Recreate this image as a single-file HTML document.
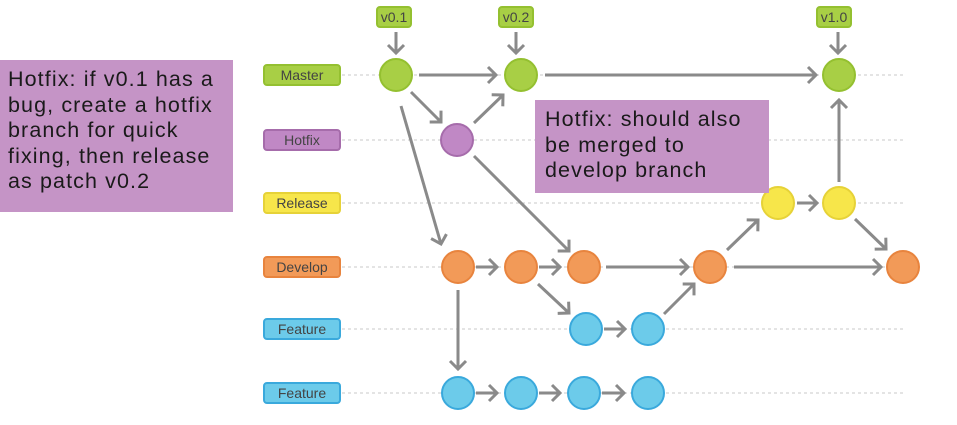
<!DOCTYPE html>
<html><head><meta charset="utf-8"><style>
html,body{margin:0;padding:0;background:#fff;width:957px;height:425px;overflow:hidden;position:relative;font-family:"Liberation Sans",sans-serif}
.box{position:absolute;background:#c594c6;color:#1a1a1a;font-size:21.5px;letter-spacing:1.1px;line-height:25.5px;box-sizing:border-box;white-space:nowrap}
</style></head><body>
<svg width="957" height="425" style="position:absolute;left:0;top:0">
<defs>
<marker id="a" markerUnits="userSpaceOnUse" markerWidth="20" markerHeight="20" refX="10" refY="10" orient="auto">
<path d="M2,2 L10,10 L2,18" fill="none" stroke="#8a8a8a" stroke-width="3"/>
</marker>
</defs>
<g stroke="#c8c8c8" stroke-width="1" stroke-dasharray="3,3">
<line x1="342" y1="75" x2="905" y2="75"/>
<line x1="342" y1="140" x2="905" y2="140"/>
<line x1="342" y1="203" x2="905" y2="203"/>
<line x1="342" y1="267" x2="905" y2="267"/>
<line x1="342" y1="329" x2="905" y2="329"/>
<line x1="342" y1="393" x2="905" y2="393"/>
</g>
<g font-size="14" text-anchor="middle" fill="#444" stroke-width="2">
<rect x="264" y="65" width="76" height="20" rx="3" fill="#a8cf45" stroke="#94c030"/><text x="302" y="80">Master</text>
<rect x="264" y="130" width="76" height="20" rx="3" fill="#c088c5" stroke="#a66cab"/><text x="302" y="145">Hotfix</text>
<rect x="264" y="193" width="76" height="20" rx="3" fill="#f7e64a" stroke="#e6d238"/><text x="302" y="208">Release</text>
<rect x="264" y="257" width="76" height="20" rx="3" fill="#f29a58" stroke="#e8843e"/><text x="302" y="272">Develop</text>
<rect x="264" y="319" width="76" height="20" rx="3" fill="#6ccbea" stroke="#3aa9dc"/><text x="302" y="334">Feature</text>
<rect x="264" y="383" width="76" height="20" rx="3" fill="#6ccbea" stroke="#3aa9dc"/><text x="302" y="398">Feature</text>
<rect x="377" y="7" width="34" height="20" rx="3" fill="#a8cf45" stroke="#94c030"/><text x="394" y="22">v0.1</text>
<rect x="499" y="7" width="34" height="20" rx="3" fill="#a8cf45" stroke="#94c030"/><text x="516" y="22">v0.2</text>
<rect x="817" y="7" width="34" height="20" rx="3" fill="#a8cf45" stroke="#94c030"/><text x="834" y="22">v1.0</text>
</g>
<g stroke="#8a8a8a" stroke-width="3" fill="none" marker-end="url(#a)">
<line x1="396" y1="32" x2="396" y2="53"/>
<line x1="516" y1="32" x2="516" y2="53"/>
<line x1="838" y1="32" x2="838" y2="53"/>
<line x1="419" y1="75" x2="496" y2="75"/>
<line x1="545" y1="75" x2="816" y2="75"/>
<line x1="411" y1="92" x2="441" y2="122"/>
<line x1="474" y1="123" x2="503" y2="95"/>
<line x1="474" y1="156" x2="569" y2="251"/>
<line x1="401" y1="106" x2="441" y2="244"/>
<line x1="476" y1="267" x2="497" y2="267"/>
<line x1="539" y1="267" x2="560" y2="267"/>
<line x1="606" y1="267" x2="688" y2="267"/>
<line x1="734" y1="267" x2="881" y2="267"/>
<line x1="538" y1="284" x2="569" y2="313"/>
<line x1="604" y1="329" x2="625" y2="329"/>
<line x1="664" y1="314" x2="694" y2="284"/>
<line x1="458" y1="290" x2="458" y2="369"/>
<line x1="476" y1="393" x2="497" y2="393"/>
<line x1="539" y1="393" x2="560" y2="393"/>
<line x1="602" y1="393" x2="624" y2="393"/>
<line x1="727" y1="250" x2="758" y2="220"/>
<line x1="797" y1="203" x2="817" y2="203"/>
<line x1="839" y1="182" x2="839" y2="100"/>
<line x1="855" y1="219" x2="886" y2="249"/>
</g>
<g stroke-width="2">
<g fill="#a8cf45" stroke="#94c030">
<circle cx="396" cy="75" r="16"/><circle cx="521" cy="75" r="16"/><circle cx="839" cy="75" r="16"/>
</g>
<circle cx="457" cy="140" r="16" fill="#c088c5" stroke="#a66cab"/>
<g fill="#f7e64a" stroke="#e6d238">
<circle cx="778" cy="203" r="16"/><circle cx="839" cy="203" r="16"/>
</g>
<g fill="#f29a58" stroke="#e8843e">
<circle cx="458" cy="267" r="16"/><circle cx="521" cy="267" r="16"/><circle cx="584" cy="267" r="16"/><circle cx="710" cy="267" r="16"/><circle cx="903" cy="267" r="16"/>
</g>
<g fill="#6ccbea" stroke="#3aa9dc">
<circle cx="586" cy="329" r="16"/><circle cx="648" cy="329" r="16"/>
<circle cx="458" cy="393" r="16"/><circle cx="521" cy="393" r="16"/><circle cx="584" cy="393" r="16"/><circle cx="648" cy="393" r="16"/>
</g>
</g>
</svg>
<div class="box" style="left:0;top:60px;width:233px;height:152px;padding:7px 0 0 8px">Hotfix: if v0.1 has a<br>bug, create a hotfix<br>branch for quick<br>fixing, then release<br>as patch v0.2</div>
<div class="box" style="left:535px;top:100px;width:234px;height:93px;padding:7px 0 0 10px">Hotfix: should also<br>be merged to<br>develop branch</div>
</body></html>
